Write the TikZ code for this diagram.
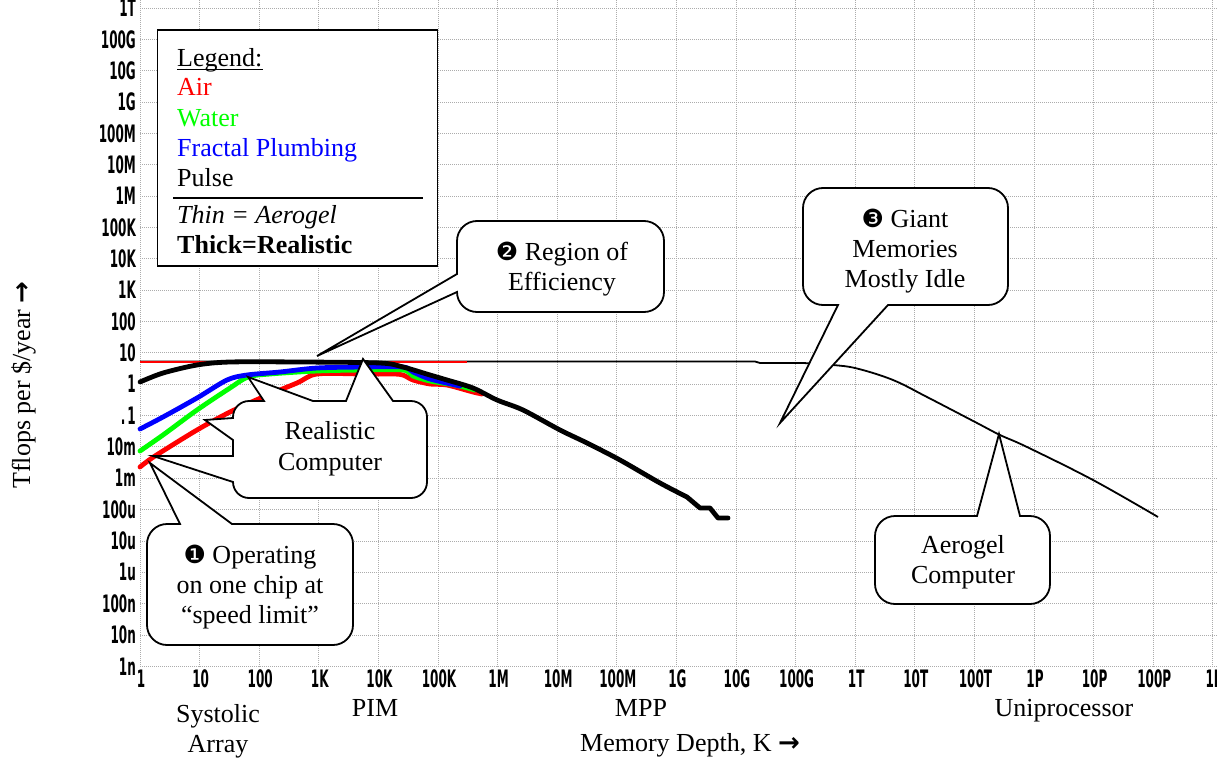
\documentclass[tikz,border=0pt]{standalone}
\usepackage{fontspec}
\usepackage{graphicx}
\setmainfont{Liberation Serif}
\newfontfamily\djv{DejaVu Sans}
\definecolor{cred}{RGB}{255,0,0}
\definecolor{cgreen}{RGB}{0,255,0}
\definecolor{cblue}{RGB}{0,0,255}
\newcommand{\lcd}[1]{\scalebox{0.5}[1]{#1}}
\newcommand{\dingnum}[1]{{\djv\fontsize{25}{25}\selectfont #1}}
\newcommand{\rarr}{{\djv\bfseries\fontsize{26}{26}\selectfont →}}
\begin{document}
\begin{tikzpicture}[x=1pt,y=-1pt,
  gridline/.style={draw=gray!65,line width=0.8pt,dash pattern=on 1pt off 1pt},
  ticklab/.style={inner sep=0pt,font=\djv\bfseries\fontsize{24}{24}\selectfont},
  txt/.style={inner sep=0pt,font=\fontsize{26}{30}\selectfont},
  thinc/.style={line width=1.8pt,line join=round},
  thickc/.style={line width=4.8pt,line join=round,line cap=round},
  callout/.style={draw=black,fill=white,line width=1.8pt,line join=miter},
  legendbox/.style={draw=black,fill=white,line width=1.8pt,inner sep=0pt,minimum width=280pt,minimum height=236pt},
]
\useasboundingbox (0,0) rectangle (1217,757);
\fill[white] (0,0) rectangle (1217,757);

% grid
\foreach \k in {0,...,18}
  \draw[gridline] ({140+59.6*\k},0) -- ({140+59.6*\k},666.3);
\foreach \k in {-9,...,12}
  \draw[gridline] (140,{384.15-31.35*\k}) -- (1217,{384.15-31.35*\k});

% y tick labels
\foreach \k/\l in {12/1T,11/100G,10/10G,9/1G,8/100M,7/10M,6/1M,5/100K,4/10K,3/1K,2/100,1/10,0/1,-1/{.\hspace{4pt}1},-2/10m,-3/1m,-4/100u,-5/10u,-6/1u,-7/100n,-8/10n,-9/1n}
  \node[ticklab,anchor=east] (ylab\k) at (136,{384.15-31.35*\k}) {\lcd{\l}};

% x tick labels
\foreach \k/\l in {0/1,1/10,2/100,3/1K,4/10K,5/100K,6/1M,7/10M,8/100M,9/1G,10/10G,11/100G,12/1T,13/10T,14/100T,15/1P,16/10P,17/100P,18/1E}
  \node[ticklab] (xlab\k) at ({141+59.6*\k},679) {\lcd{\l}};

% axis titles and region labels
\node[txt,rotate=90,anchor=base] (ytitle) at (30,385) {Tflops per \$/year \rarr};
\node[txt,anchor=base] (systolic) at (218,722) {Systolic};
\node[txt,anchor=base] (array) at (218,752) {Array};
\node[txt,anchor=base] (pim) at (375,716) {PIM};
\node[txt,anchor=base] (mpp) at (641,716) {MPP};
\node[txt,anchor=base] (unip) at (1064,716) {Uniprocessor};
\node[txt,anchor=base] (xtitle) at (690,751) {Memory Depth, K \rarr};

% thin (aerogel) curves
\draw[thinc] (140,361.5) -- (755,361.5) -- (760,363) -- (803,363)
  -- plot[smooth,tension=0.6] coordinates {(803,363) (833,365) (857,368.5) (893,380) (927,397) (977,423) (1000,435) (1027,447) (1093,480) (1158,517)};
\draw[thinc,cred] (140,362) -- (467,362);

% thick (realistic) curves
\draw[thickc,cred] plot[smooth,tension=0.5] coordinates {(140,467) (155,456) (197,430) (230,412) (263,397) (297,383) (317,374) (363,374) (393,374) (403,375) (413,380) (430,384) (447,385) (473,392) (482,394)};
\draw[thickc,cgreen] plot[smooth,tension=0.5] coordinates {(140,451) (163,435) (197,410) (230,388) (248,377) (270,374) (317,371) (363,370) (403,370) (413,376) (430,381) (455,385) (475,390)};
\draw[thickc,cblue] plot[smooth,tension=0.5] coordinates {(140,429) (163,417) (197,398) (227,380) (247,375) (280,372) (317,368) (363,367) (403,367) (413,372) (430,379) (460,386)};
\draw[thickc] plot[smooth,tension=0.5] coordinates {(140,382) (163,373) (197,365) (230,362) (300,362) (380,363) (403,367) (430,375) (447,380) (473,388) (497,400) (523,410) (560,430) (587,443) (620,460) (660,483) (687,497)}
  -- (700,508) -- (710,508) -- (718,518) -- (728,518);

% legend
\node[legendbox] (legend) at (297.5,148.3) {};
\draw[line width=1.8pt] (173,198) -- (423,198);
\node[txt,anchor=base west] (legtitle) at (177,66.7) {Legend:};
\draw[line width=1.4pt] ([yshift=-3pt]legtitle.base west) -- ([yshift=-3pt]legtitle.base east);
\node[txt,anchor=base west,text=cred] (legair) at (177,96) {Air};
\node[txt,anchor=base west,text=cgreen] (legwater) at (177,126.7) {Water};
\node[txt,anchor=base west,text=cblue] (legfractal) at (177,156.7) {Fractal Plumbing};
\node[txt,anchor=base west] (legpulse) at (177,186.7) {Pulse};
\node[txt,anchor=base west] (legthin) at (177,223) {\itshape Thin = Aerogel};
\node[txt,anchor=base west] (legthick) at (177,253) {\bfseries Thick=Realistic};

% callout tips
\coordinate (tipEff) at (317,356);
\coordinate (tipGiant) at (780,423);
\coordinate (tipRA) at (363,359);
\coordinate (tipRB) at (248,377);
\coordinate (tipRC) at (205,420);
\coordinate (tipRD) at (153,456);
\coordinate (tipOp) at (150,463);
\coordinate (tipAero) at (999,434);

% callout: Region of Efficiency
\draw[callout] (477,221) -- (644,221) .. controls (655,221) and (664,230) .. (664,241)
  -- (664,292) .. controls (664,303) and (655,312) .. (644,312)
  -- (477,312) .. controls (466,312) and (457,303) .. (457,292)
  -- (tipEff) -- (457,274)
  -- (457,241) .. controls (457,230) and (466,221) .. (477,221) -- cycle;
\node[txt,anchor=base] (eff1) at (562,260) {\dingnum{❷} Region of};
\node[txt,anchor=base] (eff2) at (562,290) {Efficiency};

% callout: Giant Memories
\draw[callout] (823,188) -- (988,188) .. controls (999,188) and (1008,197) .. (1008,208)
  -- (1008,285) .. controls (1008,296) and (999,305) .. (988,305)
  -- (888,305) -- (tipGiant) -- (838,305)
  -- (823,305) .. controls (812,305) and (803,296) .. (803,285)
  -- (803,208) .. controls (803,197) and (812,188) .. (823,188) -- cycle;
\node[txt,anchor=base] (giant1) at (905,227) {\dingnum{❸} Giant};
\node[txt,anchor=base] (giant2) at (905,257) {Memories};
\node[txt,anchor=base] (giant3) at (905,287) {Mostly Idle};

% callout: Realistic Computer
\draw[callout] (249,401) -- (264,401) -- (tipRB) -- (313,401) -- (346,401) -- (tipRA) -- (393,401)
  -- (411,401) .. controls (419.8,401) and (427,408.2) .. (427,417)
  -- (427,482) .. controls (427,490.8) and (419.8,498) .. (411,498)
  -- (249,498) .. controls (240.2,498) and (233,490.8) .. (233,482)
  -- (tipRD) -- (233,456) -- (233,440) -- (tipRC) -- (233,418)
  -- (233,417) .. controls (233,408.2) and (240.2,401) .. (249,401) -- cycle;
\node[txt,anchor=base] (real1) at (330,439) {Realistic};
\node[txt,anchor=base] (real2) at (330,470) {Computer};

% callout: Operating
\draw[callout] (167,524) -- (180,524) -- (tipOp) -- (232,524)
  -- (333,524) .. controls (344,524) and (353,533) .. (353,544)
  -- (353,625) .. controls (353,636) and (344,645) .. (333,645)
  -- (167,645) .. controls (156,645) and (147,636) .. (147,625)
  -- (147,544) .. controls (147,533) and (156,524) .. (167,524) -- cycle;
\node[txt,anchor=base] (op1) at (250,563) {\dingnum{❶} Operating};
\node[txt,anchor=base] (op2) at (250,593) {on one chip at};
\node[txt,anchor=base] (op3) at (250,623) {“speed limit”};

% callout: Aerogel Computer
\draw[callout] (895,516) -- (977,516) -- (tipAero) -- (1020,516)
  -- (1030,516) .. controls (1041,516) and (1050,525) .. (1050,536)
  -- (1050,584) .. controls (1050,595) and (1041,604) .. (1030,604)
  -- (895,604) .. controls (884,604) and (875,595) .. (875,584)
  -- (875,536) .. controls (875,525) and (884,516) .. (895,516) -- cycle;
\node[txt,anchor=base] (aero1) at (963,553) {Aerogel};
\node[txt,anchor=base] (aero2) at (963,583) {Computer};
\end{tikzpicture}
\end{document}
